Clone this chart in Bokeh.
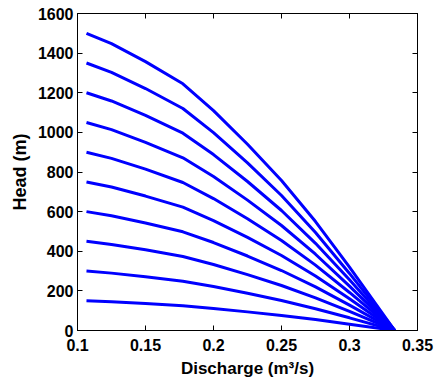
from bokeh.plotting import figure
from bokeh.models import LinearAxis, FixedTicker, CustomJSTickFormatter, Range1d
from bokeh.embed import file_html
from bokeh.resources import INLINE

# Discharge (m^3/s) sample points shared by all curves
discharge = [0.1066, 0.125, 0.15, 0.1775, 0.2, 0.225, 0.25, 0.275, 0.3, 0.3333]

# Head (m) for each curve
h150 = [150, 144.8, 135.7, 124.5, 111, 94, 75.7, 55, 32, 0]
h300 = [300, 289.6, 271.4, 249, 222, 188, 151.4, 110, 64, 0]
h450 = [450, 434.4, 407.1, 373.5, 333, 282, 227.1, 165, 96, 0]
h600 = [600, 579.2, 542.8, 498, 444, 376, 302.8, 220, 128, 0]
h750 = [750, 724, 678.5, 622.5, 555, 470, 378.5, 275, 160, 0]
h900 = [900, 868.8, 814.2, 747, 666, 564, 454.2, 330, 192, 0]
h1050 = [1050, 1013.6, 949.9, 871.5, 777, 658, 529.9, 385, 224, 0]
h1200 = [1200, 1158.4, 1085.6, 996, 888, 752, 605.6, 440, 256, 0]
h1350 = [1350, 1303.2, 1221.3, 1120.5, 999, 846, 681.3, 495, 288, 0]
h1500 = [1500, 1448, 1357, 1245, 1110, 940, 757, 550, 320, 0]
curves = [h150, h300, h450, h600, h750, h900, h1050, h1200, h1350, h1500]

x_ticks = [0.1, 0.15, 0.2, 0.25, 0.3, 0.35]
y_ticks = [0, 200, 400, 600, 800, 1000, 1200, 1400, 1600]

FONT = "Liberation Sans"

p = figure(width=435, height=381, output_backend="svg", toolbar_location=None,
           x_range=Range1d(0.1, 0.35), y_range=Range1d(0, 1600),
           x_axis_label="Discharge (m\u00b3/s)", y_axis_label="Head (m)",
           min_border_left=77, min_border_right=18, min_border_top=13, min_border_bottom=51)
p.grid.visible = False
p.outline_line_color = "black"
p.outline_line_width = 1
p.background_fill_color = "white"
p.border_fill_color = "white"

fmt = CustomJSTickFormatter(code="return tick.toString();")
blank = CustomJSTickFormatter(code="return '';")

for ax in p.xaxis:
    ax.ticker = FixedTicker(ticks=x_ticks)
for ax in p.yaxis:
    ax.ticker = FixedTicker(ticks=y_ticks)

for ax in list(p.xaxis) + list(p.yaxis):
    ax.formatter = fmt
    ax.major_tick_in = 5
    ax.major_tick_out = 0
    ax.minor_tick_line_color = None
    ax.axis_line_color = "black"
    ax.major_tick_line_color = "black"
    ax.major_label_text_font = FONT
    ax.major_label_text_font_style = "bold"
    ax.major_label_text_font_size = "16px"
    ax.major_label_text_color = "black"
    ax.axis_label_text_font = FONT
    ax.axis_label_text_font_style = "bold"
    ax.axis_label_text_color = "black"

p.xaxis.axis_label_text_font_size = "17px"
p.yaxis.axis_label_text_font_size = "18px"
p.xaxis.major_label_standoff = 8
p.xaxis.axis_label_standoff = 5
p.yaxis.major_label_standoff = 4
p.yaxis.axis_label_standoff = 5

top = LinearAxis(ticker=FixedTicker(ticks=x_ticks), formatter=blank, major_tick_in=5,
                 major_tick_out=0, minor_tick_line_color=None, major_label_standoff=0)
right = LinearAxis(ticker=FixedTicker(ticks=y_ticks), formatter=blank, major_tick_in=5,
                   major_tick_out=0, minor_tick_line_color=None, major_label_standoff=0)
p.add_layout(top, "above")
p.add_layout(right, "right")

for h in curves:
    p.line(discharge, h, line_color="#0000ff", line_width=3)

open("out.html", "w").write(file_html(p, INLINE))
